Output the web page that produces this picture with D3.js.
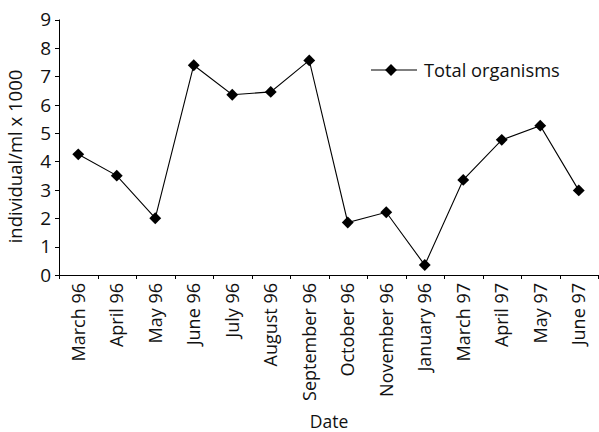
<!DOCTYPE html>
<html><head><meta charset="utf-8">
<script src="https://cdn.jsdelivr.net/npm/d3@7"></script>
<style>body{margin:0;background:#fff}svg{display:block}text{font-family:"Open Sans",sans-serif;fill:#111}</style>
</head><body>
<script>
const dates = ["March 96","April 96","May 96","June 96","July 96","August 96","September 96","October 96","November 96","January 96","March 97","April 97","May 97","June 97"];
const totalOrganisms = [4.25,3.5,2.0,7.39,6.35,6.45,7.56,1.85,2.21,0.35,3.35,4.76,5.26,2.98];
const yTicks = [0,1,2,3,4,5,6,7,8,9];
const seriesName = "Total organisms";
const xTitle = "Date";
const yTitle = "individual/ml x 1000";

const W=599,H=432;
const m={l:59,r:1,t:19.5,b:157};
const svg=d3.select("body").append("svg").attr("width",W).attr("height",H);
const x=d3.scaleBand().domain(dates).range([m.l,W-m.r]);
const y=d3.scaleLinear().domain([0,9]).range([H-m.b,m.t]);
const y0=H-m.b;

// y axis
svg.append("line").attr("x1",m.l+0.5).attr("x2",m.l+0.5).attr("y1",y(9)).attr("y2",y0).attr("stroke","#000");
svg.selectAll(".yt").data(yTicks).join("line").attr("x1",m.l-4).attr("x2",m.l+0.5)
  .attr("y1",d=>Math.round(y(d))+0.5).attr("y2",d=>Math.round(y(d))+0.5).attr("stroke","#000");
svg.selectAll(".yl").data(yTicks).join("text").attr("x",m.l-8).attr("y",d=>y(d)).attr("dy","0.36em")
  .attr("text-anchor","end").attr("font-size",19).text(d=>d);

// x axis
svg.append("line").attr("x1",m.l).attr("x2",W-m.r).attr("y1",y0+0.5).attr("y2",y0+0.5).attr("stroke","#000");
const bounds=dates.map(d=>x(d)).concat([x(dates[dates.length-1])+x.bandwidth()]);
svg.selectAll(".xt").data(bounds).join("line").attr("x1",d=>Math.round(d)+0.5).attr("x2",d=>Math.round(d)+0.5)
  .attr("y1",y0).attr("y2",y0+4).attr("stroke","#000");
svg.selectAll(".xl").data(dates).join("text")
  .attr("transform",d=>`translate(${x(d)+x.bandwidth()/2},${y0+8}) rotate(-90)`)
  .attr("text-anchor","end").attr("dy","0.36em").attr("font-size",18).text(d=>d);

// titles
svg.append("text").attr("x",329).attr("y",427.5).attr("text-anchor","middle").attr("font-size",17.5).text(xTitle);
svg.append("text").attr("transform",`translate(15,156.5) rotate(-90)`).attr("text-anchor","middle")
  .attr("dy","0.36em").attr("font-size",18.5).text(yTitle);

// line
const cx=d=>x(d)+x.bandwidth()/2;
svg.append("path").datum(totalOrganisms.map((v,i)=>[cx(dates[i]),y(v)]))
  .attr("d",d3.line()).attr("fill","none").attr("stroke","#000").attr("stroke-width",1.1);
const diamond=d3.symbol().type(d3.symbolDiamond2).size(90);
svg.selectAll(".pt").data(totalOrganisms).join("path")
  .attr("transform",(v,i)=>`translate(${cx(dates[i])},${y(v)})`).attr("d",diamond).attr("fill","#000");

// legend
svg.append("line").attr("x1",371).attr("x2",417).attr("y1",70).attr("y2",70).attr("stroke","#000").attr("stroke-width",1.1);
svg.append("path").attr("transform","translate(391,70)").attr("d",diamond).attr("fill","#000");
svg.append("text").attr("x",424).attr("y",70).attr("dy","0.36em").attr("font-size",18.3).text(seriesName);
</script>
</body></html>
